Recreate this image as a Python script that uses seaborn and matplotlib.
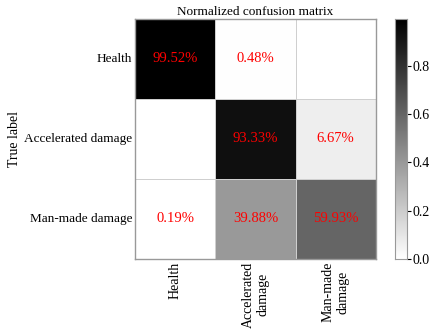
import numpy as np
import pandas as pd
import matplotlib
matplotlib.use("Agg")
import matplotlib.pyplot as plt
import seaborn as sns

classes = ["Health", "Accelerated damage", "Man-made damage"]
xtick_labels = ["Health", "Accelerated\ndamage", "Man-made\ndamage"]
row_health = [0.9952, 0.0048, 0.0]
row_accel = [0.0, 0.9333, 0.0667]
row_manmade = [0.0019, 0.3988, 0.5993]

sns.set_style("white")
plt.rcParams["font.family"] = ["Liberation Serif", "DejaVu Serif"]
plt.rcParams["text.color"] = "black"
plt.rcParams["axes.labelcolor"] = "black"
plt.rcParams["xtick.color"] = "black"
plt.rcParams["ytick.color"] = "black"

cm = np.array([row_health, row_accel, row_manmade])
df = pd.DataFrame(cm, index=classes, columns=xtick_labels)
annot = np.array([["" if v == 0 else f"{v*100:.2f}%" for v in r] for r in cm])

fig = plt.figure(figsize=(4.34, 3.32), dpi=100)
ax = fig.add_axes([0.311, 0.22, 0.555, 0.723])
cax = fig.add_axes([0.910, 0.22, 0.028, 0.723])
sns.heatmap(df, ax=ax, cbar_ax=cax, cmap="gray_r", vmin=0, vmax=cm.max(),
            annot=annot, fmt="", annot_kws={"color": "red", "fontsize": 10.5},
            linewidths=0.5, linecolor="#cfcfcf", square=False)
ax.set_title("Normalized confusion matrix", fontsize=9.5, pad=3, color="black")
ax.set_ylabel("True label", fontsize=10, color="black")
ax.yaxis.set_label_coords(-0.475, 0.5)
ax.set_xlabel("")
ax.tick_params(axis="both", length=0, pad=2, colors="black")
ax.set_xticklabels(xtick_labels, rotation=90, ha="center", va="top", multialignment="center", fontsize=10)
ax.set_yticklabels(classes, rotation=0, fontsize=9.5)
for s in ax.spines.values():
    s.set_visible(True)
    s.set_color("#999999")
    s.set_linewidth(1)
cax.set_yticks([0.0, 0.2, 0.4, 0.6, 0.8])
cax.tick_params(labelsize=10, length=3, width=0.8, pad=1, colors="black")
for s in cax.spines.values():
    s.set_visible(True)
    s.set_color("#999999")
fig.savefig("out.png", dpi=100)
